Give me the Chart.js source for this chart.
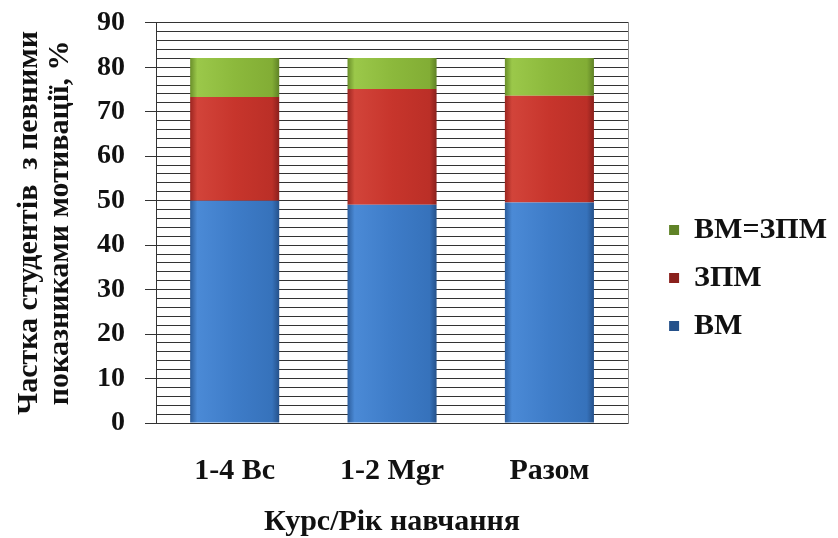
<!DOCTYPE html>
<html>
<head>
<meta charset="utf-8">
<script src="https://cdn.jsdelivr.net/npm/chart.js@4/dist/chart.umd.min.js"></script>
<style>
  html, body { margin: 0; padding: 0; background: #fff; }
  #wrap { width: 838px; height: 538px; }
</style>
</head>
<body>
<div id="wrap"><canvas id="c" width="838" height="538"></canvas></div>
<script>
// Categories and stacked shares (%) of students by motivation type
const categories = ['1-4 Bc', '1-2 Mgr', 'Разом'];
const seriesBM = [50.0, 49.1, 49.6];
const seriesZPM = [23.3, 26.0, 24.0];
const seriesEqual = [8.8, 7.0, 8.5];
const yTickLabels = [0, 10, 20, 30, 40, 50, 60, 70, 80, 90];

const FONT = '"Liberation Serif", "Times New Roman", serif';

// Horizontal shading across each bar (light left edge, darker right edge)
function barShade(stops) {
  return (ctx) => {
    const chart = ctx.chart;
    const area = chart.chartArea;
    const xs = chart.scales.x;
    if (!area || !xs || ctx.dataIndex === undefined) return stops[2];
    const cx = xs.getPixelForValue(ctx.dataIndex);
    const w = (area.right - area.left) / categories.length * 0.566;
    const g = chart.ctx.createLinearGradient(cx - w / 2, 0, cx + w / 2, 0);
    g.addColorStop(0, stops[0]);
    g.addColorStop(0.08, stops[1]);
    g.addColorStop(0.5, stops[2]);
    g.addColorStop(0.92, stops[3]);
    g.addColorStop(1, stops[4]);
    return g;
  };
}

const blue = ['#2c5d9c', '#4b8ad6', '#3e7cc8', '#3672bb', '#25518a'];
const red = ['#9c2520', '#d2443a', '#c7352c', '#bb2f27', '#8a201c'];
const green = ['#6a8f2a', '#9bc84a', '#8cb93c', '#82ad35', '#5f8226'];

new Chart(document.getElementById('c'), {
  type: 'bar',
  data: {
    labels: categories,
    datasets: [
      { label: 'ВМ', data: seriesBM, backgroundColor: barShade(blue), borderWidth: 0 },
      { label: 'ЗПМ', data: seriesZPM, backgroundColor: barShade(red), borderWidth: 0 },
      { label: 'ВМ=ЗПМ', data: seriesEqual, backgroundColor: barShade(green), borderWidth: 0 }
    ]
  },
  options: {
    responsive: false,
    animation: false,
    devicePixelRatio: 1,
    layout: { padding: { top: 6, left: 0, right: 1, bottom: 0 } },
    datasets: { bar: { categoryPercentage: 1, barPercentage: 0.566 } },
    scales: {
      x: {
        stacked: true,
        grid: { display: false, drawTicks: false },
        border: { display: true, color: '#333', width: 1 },
        ticks: {
          color: '#111',
          padding: 30,
          font: { family: FONT, size: 30, weight: 'bold' }
        },
        title: {
          display: true,
          text: 'Курс/Рік навчання',
          color: '#111',
          font: { family: FONT, size: 30, weight: 'bold', lineHeight: 1.0 },
          padding: { top: 0, bottom: 1 }
        },
        afterFit: (s) => { s.height = 115; }
      },
      y: {
        stacked: true,
        min: 0,
        max: 90,
        grid: {
          color: '#333',
          lineWidth: 1,
          tickLength: 11,
          tickColor: (c) => (c.tick && yTickLabels.includes(c.tick.value)) ? '#333' : 'rgba(0,0,0,0)'
        },
        border: { display: true, color: '#333', width: 1 },
        ticks: {
          stepSize: 2,
          autoSkip: false,
          padding: 20,
          color: '#111',
          font: { family: FONT, size: 28, weight: 'bold', lineHeight: 0.2 },
          callback: (v) => yTickLabels.includes(v) ? String(v) : ''
        },
        title: {
          display: true,
          text: ['Частка студентів  з певними', 'показниками мотивації, %'],
          color: '#111',
          font: { family: FONT, size: 30, weight: 'bold', lineHeight: 1.05 },
          padding: { top: 13, bottom: 0 }
        },
        afterFit: (s) => { s.width = 156; }
      },
      yRight: {
        position: 'right',
        min: 0,
        max: 90,
        grid: { drawOnChartArea: false, drawTicks: false },
        border: { display: true, color: '#888', width: 1 },
        ticks: { display: false },
        afterFit: (s) => { s.width = 23; }
      }
    },
    plugins: {
      tooltip: { enabled: false },
      legend: {
        position: 'right',
        align: 'center',
        reverse: true,
        maxWidth: 240,
        title: { display: true, text: '', padding: 0, font: { size: 12, lineHeight: 1 } },
        labels: {
          boxWidth: 10,
          boxHeight: 10,
          padding: 18,
          color: '#111',
          font: { family: FONT, size: 30, weight: 'bold' }
        }
      }
    }
  }
});
</script>
</body>
</html>
